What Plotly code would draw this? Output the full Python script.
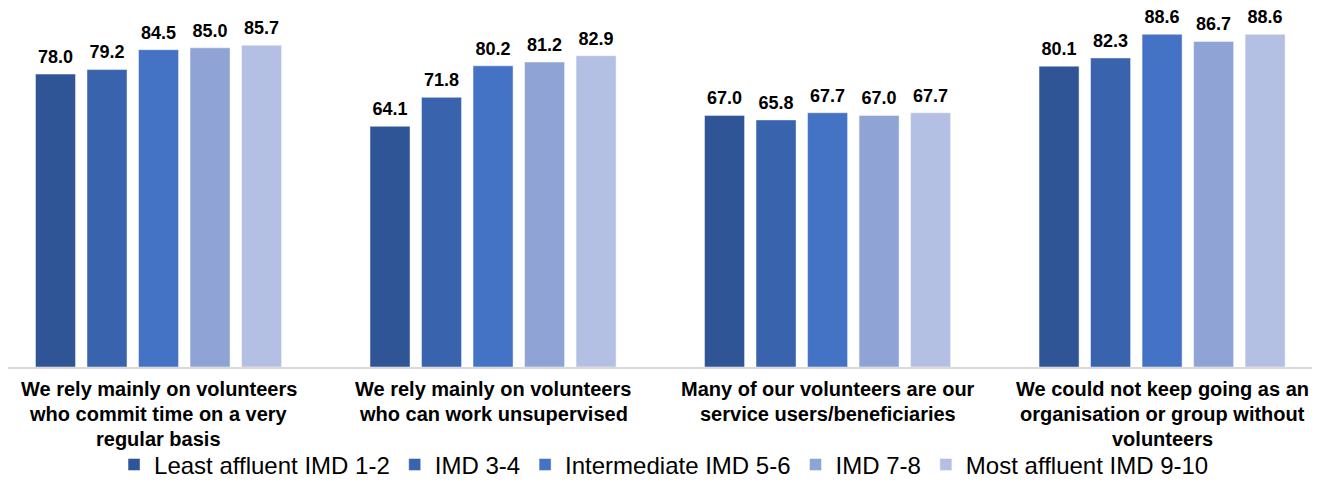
import plotly.graph_objects as go

# --- DATA ---
categories = ["c1", "c2", "c3", "c4"]
category_lines = [
    ["We rely mainly on volunteers", "who commit time on a very", "regular basis"],
    ["We rely mainly on volunteers", "who can work unsupervised"],
    ["Many of our volunteers are our", "service users/beneficiaries"],
    ["We could not keep going as an", "organisation or group without", "volunteers"],
]
series_names = [
    "Least affluent IMD 1-2",
    "IMD 3-4",
    "Intermediate IMD 5-6",
    "IMD 7-8",
    "Most affluent IMD 9-10",
]
imd_1_2 = [78.0, 64.1, 67.0, 80.1]
imd_3_4 = [79.2, 71.8, 65.8, 82.3]
imd_5_6 = [84.5, 80.2, 67.7, 88.6]
imd_7_8 = [85.0, 81.2, 67.0, 86.7]
imd_9_10 = [85.7, 82.9, 67.7, 88.6]
series_values = [imd_1_2, imd_3_4, imd_5_6, imd_7_8, imd_9_10]

# --- STYLE ---
COLORS = ["#2F5597", "#3A63AD", "#4472C4", "#8FA4D5", "#B4C0E3"]
FONT = "Liberation Sans, Arial, sans-serif"

fig = go.Figure()

for i, (name, vals) in enumerate(zip(series_names, series_values)):
    fig.add_trace(go.Bar(
        x=categories, y=vals, name=name, offsetgroup=str(i),
        marker=dict(color=COLORS[i], line=dict(color="rgba(255,255,255,0.45)", width=1)),
        hoverinfo="skip",
    ))

# value labels, grouped the same way as the bars (invisible marker pushes text up)
for i, vals in enumerate(series_values):
    fig.add_trace(go.Scatter(
        x=categories, y=vals, offsetgroup=str(i), mode="markers+text",
        marker=dict(size=9, opacity=0),
        text=[f"{v:.1f}" for v in vals], textposition="top center",
        textfont=dict(family=FONT, size=18, color="#000000", weight="bold"),
        showlegend=False, hoverinfo="skip", cliponaxis=False,
    ))

# category labels, one annotation per line
for cat, lines in zip(categories, category_lines):
    for j, line in enumerate(lines):
        fig.add_annotation(
            x=cat, y=0, xref="x", yref="y", text=f"<b>{line}</b>",
            showarrow=False, yanchor="top", yshift=-9 - 25 * j,
            font=dict(family=FONT, size=20, color="#000000"),
        )

fig.update_layout(
    width=1320, height=500,
    margin=dict(l=0, r=0, t=0, b=141),
    paper_bgcolor="white", plot_bgcolor="white",
    barmode="group", bargap=0.23, bargroupgap=0.223,
    scattermode="group",
    font=dict(family=FONT, color="#000000"),
    xaxis=dict(range=[-0.45, 3.496], showticklabels=False, showgrid=False,
               showline=True, linecolor="#D9D9D9", linewidth=1.5, zeroline=False),
    yaxis=dict(range=[0, 95.6], visible=False),
    legend=dict(orientation="h", x=0.497, xanchor="center", y=-0.21, yanchor="top",
                font=dict(family=FONT, size=24, color="#000000"),
                itemwidth=30, traceorder="normal"),
    showlegend=True,
)

fig.write_html("out.html")
